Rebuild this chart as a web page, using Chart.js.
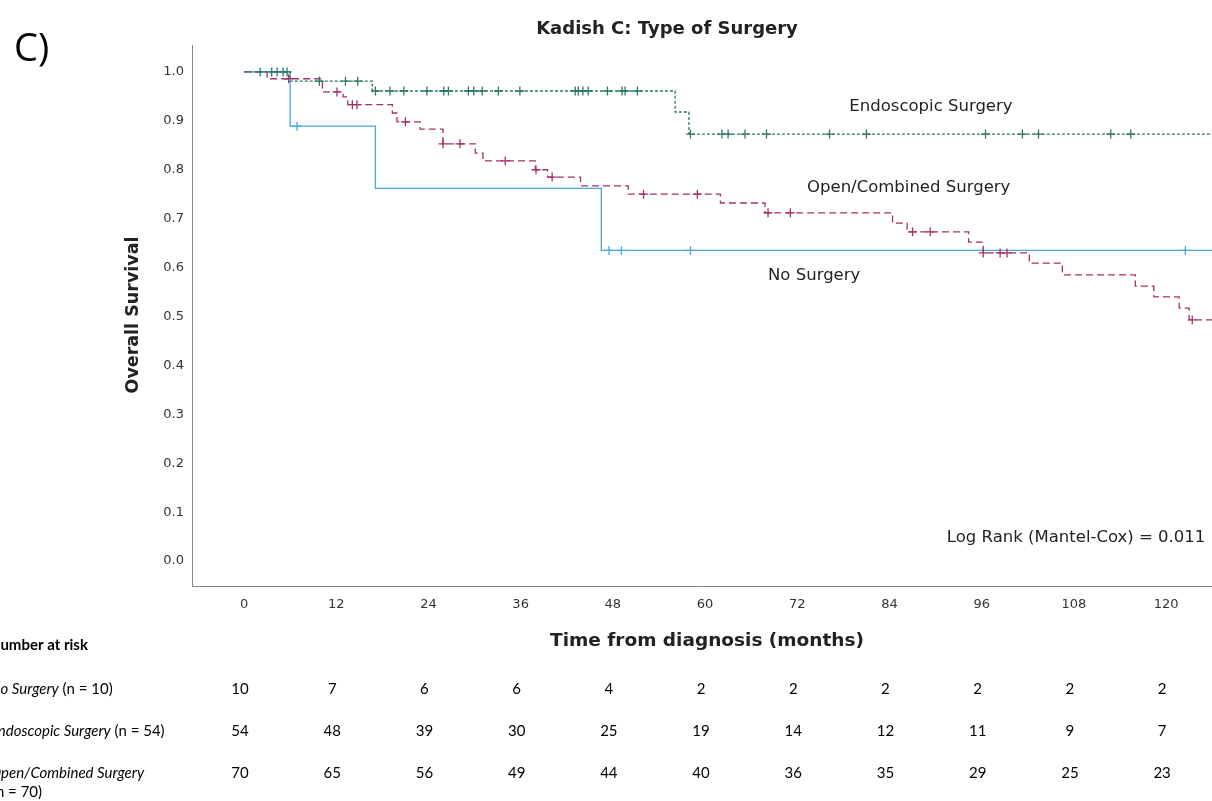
<!DOCTYPE html>
<html>
<head>
<meta charset="utf-8">
<script src="https://cdn.jsdelivr.net/npm/chart.js@4"></script>
<style>
  html, body { margin: 0; padding: 0; background: #fff; overflow: hidden; }
  #wrap { width: 1218px; height: 801px; position: relative; }
</style>
</head>
<body>
<div id="wrap"><canvas id="kmChart"></canvas></div>
<script>
// Kaplan-Meier curves (months, survival)
const noSurgTimes = [0, 6.0, 17.1, 46.5, 140];
const noSurgSurv = [1.0, 0.889, 0.762, 0.635, 0.635];
const noSurgCensored = [6.9, 47.5, 49.1, 58.1, 122.5];

const endoTimes = [0, 6.0, 16.7, 56.1, 57.9, 140];
const endoSurv = [1.0, 0.981, 0.961, 0.918, 0.873, 0.873];
const endoCensored = [2.1, 3.6, 4.3, 5.1, 5.6, 9.8, 13.2, 14.8, 17.1, 19.0, 20.8, 23.8,
  26.0, 26.6, 29.2, 29.9, 31.0, 33.1, 35.9, 43.1, 43.5, 44.1, 44.8, 47.3, 49.2, 49.6,
  51.2, 58.1, 62.2, 63.0, 65.2, 68.0, 76.2, 81.0, 96.5, 101.3, 103.4, 112.8, 115.4];

const openTimes = [0, 3.0, 10.2, 12.9, 13.5, 19.3, 19.9, 22.9, 25.9, 30.1, 31.1, 37.9,
  39.5, 43.8, 50.0, 62.0, 67.8, 84.4, 86.3, 94.3, 96.2, 102.2, 106.5, 116.0, 118.4,
  121.7, 123.0, 140];
const openSurv = [1.0, 0.986, 0.959, 0.949, 0.933, 0.916, 0.898, 0.883, 0.853, 0.834,
  0.818, 0.800, 0.785, 0.767, 0.750, 0.732, 0.712, 0.691, 0.673, 0.652, 0.630, 0.609,
  0.585, 0.562, 0.540, 0.517, 0.493, 0.493];
const openCensored = [5.8, 12.1, 14.1, 14.7, 21.0, 25.9, 28.1, 34.0, 38.0, 40.1, 52.0,
  59.0, 68.2, 71.1, 87.0, 89.3, 96.2, 98.4, 99.3, 123.4];

// Number at risk table
const riskTimes = [0, 12, 24, 36, 48, 60, 72, 84, 96, 108, 120];
const riskNo = [10, 7, 6, 6, 4, 2, 2, 2, 2, 2, 2];
const riskEndo = [54, 48, 39, 30, 25, 19, 14, 12, 11, 9, 7];
const riskOpen = [70, 65, 56, 49, 44, 40, 36, 35, 29, 25, 23];

const xTicks = [0, 12, 24, 36, 48, 60, 72, 84, 96, 108, 120];
const yTicks = [0, 0.1, 0.2, 0.3, 0.4, 0.5, 0.6, 0.7, 0.8, 0.9, 1.0];

const BLUE = "#4ba6de";
const GREEN = "#2b7868";
const PURPLE = "#a4316a";

function curve(times, surv) {
  return times.map((t, i) => ({ x: t, y: surv[i] }));
}
// survival value of a step curve at time t (for placing censor marks)
function survAt(times, surv, t) {
  let s = surv[0];
  for (let i = 0; i < times.length; i++) {
    if (times[i] <= t) s = surv[i];
  }
  return s;
}
function marks(times, surv, cens) {
  return cens.map(t => ({ x: t, y: survAt(times, surv, t) }));
}

const lineBase = { pointRadius: 0, borderWidth: 1.3, stepped: "before", fill: false };
const markBase = { type: "scatter", pointStyle: "cross", pointRadius: 4.5, borderWidth: 1.3, showLine: false };

const textPlugin = {
  id: "kmText",
  afterDraw(chart) {
    const ctx = chart.ctx;
    const xs = chart.scales.x;
    const ys = chart.scales.y;
    ctx.save();

    ctx.fillStyle = "#000";
    ctx.font = "38px 'Open Sans'";
    ctx.textAlign = "left";
    ctx.textBaseline = "middle";
    ctx.fillText("C)", 14, 50);

    ctx.fillStyle = "#222";
    ctx.font = "bold 18px 'DejaVu Sans'";
    ctx.textAlign = "center";
    ctx.fillText("Kadish C: Type of Surgery", 667, 29);

    ctx.font = "16.5px 'DejaVu Sans'";
    ctx.fillText("Endoscopic Surgery", xs.getPixelForValue(89.4), ys.getPixelForValue(0.928));
    ctx.fillText("Open/Combined Surgery", xs.getPixelForValue(86.5), ys.getPixelForValue(0.763));
    ctx.fillText("No Surgery", xs.getPixelForValue(74.2), ys.getPixelForValue(0.584));
    ctx.textAlign = "right";
    ctx.fillText("Log Rank (Mantel-Cox) = 0.011", xs.getPixelForValue(125.1), ys.getPixelForValue(0.047));

    ctx.textAlign = "center";
    ctx.font = "bold 18.5px 'DejaVu Sans'";
    ctx.fillText("Time from diagnosis (months)", 707, 641);

    ctx.save();
    ctx.translate(133, 315);
    ctx.rotate(-Math.PI / 2);
    ctx.font = "bold 17.5px 'DejaVu Sans'";
    ctx.fillText("Overall Survival", 0, 0);
    ctx.restore();

    // number at risk
    ctx.fillStyle = "#000";
    ctx.textAlign = "left";
    ctx.font = "bold 15px Lato";
    ctx.fillText("Number at risk", -11, 645);

    const rows = [
      { name: "No Surgery", n: " (n = 10)", y: 689, vals: riskNo },
      { name: "Endoscopic Surgery", n: " (n = 54)", y: 731, vals: riskEndo },
      { name: "Open/Combined Surgery", n: "", y: 773, vals: riskOpen }
    ];
    rows.forEach(r => {
      ctx.textAlign = "left";
      ctx.font = "italic 15px Lato";
      ctx.fillText(r.name, -10, r.y);
      const w = ctx.measureText(r.name).width;
      ctx.font = "15px Lato";
      if (r.n) ctx.fillText(r.n, -10 + w, r.y);
      ctx.textAlign = "center";
      r.vals.forEach((v, i) => {
        ctx.fillText(String(v), xs.getPixelForValue(riskTimes[i]) - 4, r.y);
      });
    });
    ctx.textAlign = "left";
    ctx.font = "15px Lato";
    ctx.fillText("(n = 70)", -8, 792);

    ctx.restore();
  }
};

new Chart(document.getElementById("kmChart"), {
  type: "line",
  data: {
    datasets: [
      { ...markBase, data: marks(endoTimes, endoSurv, endoCensored), borderColor: GREEN, backgroundColor: GREEN },
      { ...lineBase, data: curve(endoTimes, endoSurv), borderColor: GREEN, borderDash: [3, 2] },
      { ...markBase, data: marks(openTimes, openSurv, openCensored), borderColor: PURPLE, backgroundColor: PURPLE },
      { ...lineBase, data: curve(openTimes, openSurv), borderColor: PURPLE, borderDash: [7, 4] },
      { ...markBase, data: marks(noSurgTimes, noSurgSurv, noSurgCensored), borderColor: BLUE, backgroundColor: BLUE },
      { ...lineBase, data: curve(noSurgTimes, noSurgSurv), borderColor: BLUE }
    ]
  },
  options: {
    responsive: true,
    maintainAspectRatio: false,
    animation: false,
    layout: { padding: { top: 45, right: 0, bottom: 0, left: 0 } },
    plugins: {
      legend: { display: false },
      title: { display: false },
      tooltip: { enabled: false }
    },
    scales: {
      x: {
        type: "linear",
        min: -6.77,
        max: 126.0,
        afterBuildTicks: (s) => { s.ticks = xTicks.map(v => ({ value: v })); },
        afterFit: (s) => { s.height = 215; },
        grid: { display: false, drawTicks: false },
        border: { display: true, color: "#8a8a8a", width: 1 },
        ticks: { padding: 11, color: "#333", font: { family: "DejaVu Sans", size: 13 }, maxRotation: 0 }
      },
      y: {
        type: "linear",
        min: -0.051,
        max: 1.055,
        afterBuildTicks: (s) => { s.ticks = yTicks.map(v => ({ value: v })); },
        afterFit: (s) => { s.width = 192; },
        grid: { display: false, drawTicks: false },
        border: { display: true, color: "#8a8a8a", width: 1 },
        ticks: {
          padding: 8, color: "#333", font: { family: "DejaVu Sans", size: 13 },
          callback: (v) => v.toFixed(1)
        }
      }
    }
  },
  plugins: [textPlugin]
});
</script>
</body>
</html>
